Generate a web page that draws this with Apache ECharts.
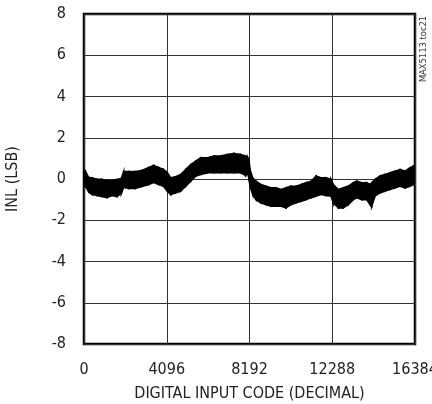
<!DOCTYPE html>
<html>
<head>
<meta charset="utf-8">
<script src="https://cdn.jsdelivr.net/npm/echarts@6/dist/echarts.min.js"></script>
<style>html,body{margin:0;padding:0;background:#fff;}#c{width:432px;height:404px;}</style>
</head>
<body>
<div id="c"></div>
<script>
// Digital input code (x) and INL band envelope (LSB)
var codes = [
  0, 65, 230, 396, 644, 891, 1139, 1386, 1634, 1848, 1964, 2211, 2541, 2871, 3201, 3448, 3696, 3943,
  4125, 4290, 4538, 4786, 5033, 5280, 5528, 5775, 6105, 6435, 6765, 7095, 7425, 7755, 8003, 8100, 8168,
  8217, 8350, 8514, 8762, 9009, 9257, 9504, 9752, 10000, 10247, 10494, 10742, 10989, 11237, 11484, 11732, 11979, 12227,
  12341, 12589, 12836, 13084, 13331, 13497, 13745, 13992, 14157, 14240, 14405, 14652, 14900, 15147, 15395, 15642, 15890, 16137, 16302, 16384
];
var inlUpper = [
  0.35, 0.38, 0.07, 0.06, -0.02, -0.02, -0.07, -0.07, -0.02, 0.02, 0.36, 0.36, 0.36, 0.41, 0.56, 0.66, 0.56, 0.46,
  0.30, 0.06, 0.11, 0.22, 0.46, 0.70, 0.86, 1.03, 1.03, 1.11, 1.11, 1.19, 1.24, 1.19, 1.11, 1.05, 0.90,
  0.46, 0.06, -0.11, -0.27, -0.35, -0.43, -0.43, -0.51, -0.43, -0.35, -0.35, -0.27, -0.18, -0.11, 0.14, 0.06, 0.06, -0.02,
  -0.27, -0.51, -0.43, -0.35, -0.18, -0.11, -0.18, -0.18, -0.27, -0.18, -0.02, 0.14, 0.22, 0.30, 0.38, 0.46, 0.38, 0.54, 0.62, 0.55
];
var inlLower = [
  -0.35, -0.35, -0.61, -0.75, -0.80, -0.85, -0.90, -0.80, -0.85, -0.70, -0.41, -0.46, -0.46, -0.36, -0.27, -0.17, -0.27, -0.36,
  -0.59, -0.75, -0.67, -0.59, -0.35, -0.11, 0.14, 0.22, 0.30, 0.30, 0.30, 0.30, 0.30, 0.30, 0.17, 0.28, 0.00,
  -0.35, -0.75, -1.00, -1.16, -1.24, -1.32, -1.32, -1.32, -1.40, -1.24, -1.16, -1.08, -1.00, -0.91, -0.83, -0.75, -0.80, -0.83,
  -1.16, -1.40, -1.40, -1.24, -1.00, -0.91, -1.00, -1.00, -1.24, -1.32, -0.83, -0.67, -0.59, -0.51, -0.43, -0.35, -0.43, -0.35, -0.27, -0.30
];
var xTicks = [0, 4096, 8192, 12288, 16384];
var yTicks = [-8, -6, -4, -2, 0, 2, 4, 6, 8];
var xTitle = 'DIGITAL INPUT CODE (DECIMAL)';
var yTitle = 'INL (LSB)';
var noteText = 'MAX5113 toc21';

// pick a narrow font if one is installed, and size it to the reference text width
var cv = document.createElement('canvas').getContext('2d');
function w(font) { cv.font = font; return cv.measureText(xTitle).width; }
var candidates = ['Liberation Sans Narrow', 'DejaVu Sans Condensed', 'Roboto Condensed', 'Open Sans Condensed', 'Liberation Sans'];
var FAMILY = 'Liberation Sans';
for (var k = 0; k < candidates.length; k++) {
  var f = candidates[k];
  if (Math.abs(w('17px "' + f + '", monospace') - w('17px monospace')) > 0.5) { FAMILY = f; break; }
}
var FONT = '"' + FAMILY + '", sans-serif';
var FS = Math.min(17, 17 * 230 / w('17px ' + FONT));
FS = Math.round(FS * 10) / 10;

var bandData = codes.map(function (c, i) { return [c, inlUpper[i], inlLower[i]]; });

function renderBand(params, api) {
  var i = params.dataIndex;
  if (i >= codes.length - 1) return null;
  var p1 = api.coord([codes[i], inlUpper[i]]);
  var p2 = api.coord([codes[i + 1], inlUpper[i + 1]]);
  var p3 = api.coord([codes[i + 1], inlLower[i + 1]]);
  var p4 = api.coord([codes[i], inlLower[i]]);
  return {
    type: 'polygon',
    shape: { points: [p1, p2, p3, p4] },
    style: { fill: '#000', stroke: '#000', lineWidth: 1.6, lineJoin: 'miter' }
  };
}

var chart = echarts.init(document.getElementById('c'), null, { renderer: 'canvas' });
chart.setOption({
  animation: false,
  backgroundColor: '#fff',
  grid: { left: 84, right: 17, top: 14, bottom: 60, show: true, borderColor: '#000', borderWidth: 2.5,
    containLabel: false, outerBoundsMode: 'none' },
  xAxis: {
    type: 'value', min: xTicks[0], max: xTicks[xTicks.length - 1], interval: 4096,
    axisLine: { show: false }, axisTick: { show: false },
    splitLine: { show: true, lineStyle: { color: '#333', width: 1 } },
    axisLabel: { show: true, fontFamily: FONT, fontSize: FS, color: '#222', margin: 18, showMaxLabel: true, showMinLabel: true,
      formatter: function (v) { return String(v); } },
    name: xTitle, nameLocation: 'middle', nameGap: 42,
    nameTextStyle: { fontFamily: FONT, fontSize: FS, color: '#222' }
  },
  yAxis: {
    type: 'value', min: yTicks[0], max: yTicks[yTicks.length - 1], interval: 2,
    axisLine: { show: false }, axisTick: { show: false },
    splitLine: { show: true, lineStyle: { color: '#333', width: 1 } },
    axisLabel: { fontFamily: FONT, fontSize: FS, color: '#222', margin: 18, formatter: function (v) { return String(v); } },
    name: yTitle, nameLocation: 'middle', nameGap: 63,
    nameTextStyle: { fontFamily: FONT, fontSize: FS, color: '#222' }
  },
  graphic: [{
    type: 'text', x: 424, y: 49, rotation: Math.PI / 2,
    style: { text: noteText, fontFamily: FONT, fontSize: Math.round(FS * 0.58 * 10) / 10, fill: '#333', align: 'center', verticalAlign: 'middle' }
  }],
  series: [{
    name: 'INL', type: 'custom', data: bandData, renderItem: renderBand,
    encode: { x: 0, y: [1, 2] }, clip: true, z: 3
  }]
});
</script>
</body>
</html>
